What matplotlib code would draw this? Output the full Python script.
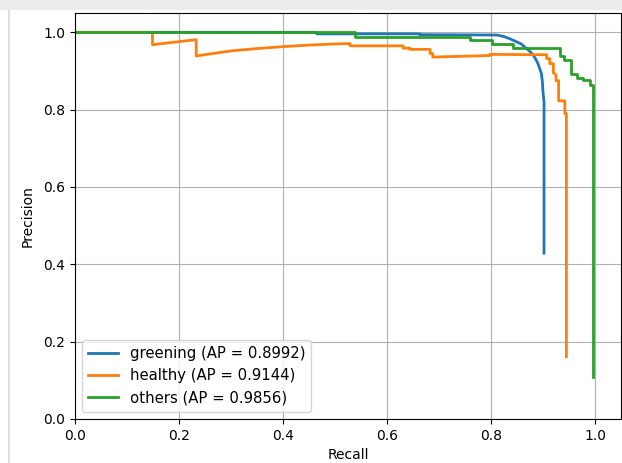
import matplotlib
matplotlib.use("Agg")
import matplotlib.pyplot as plt
from matplotlib.patches import Rectangle
from matplotlib.lines import Line2D

# PR curve vertices (recall, precision)
greening_recall = [0.0, 0.465, 0.465, 0.663, 0.663, 0.812, 0.825, 0.835, 0.842, 0.850,
                   0.858, 0.865, 0.873, 0.879, 0.885, 0.890, 0.894, 0.897, 0.899, 0.900,
                   0.902, 0.902]
greening_prec = [1.0, 1.0, 0.996, 0.996, 0.994, 0.993, 0.989, 0.984, 0.980, 0.975,
                 0.970, 0.962, 0.953, 0.945, 0.933, 0.920, 0.905, 0.893, 0.870, 0.845,
                 0.820, 0.429]

healthy_recall = [0.0, 0.149, 0.149, 0.233, 0.233, 0.30, 0.35, 0.40, 0.45, 0.50, 0.529,
                  0.529, 0.631, 0.631, 0.644, 0.644, 0.683, 0.683, 0.688, 0.688, 0.798,
                  0.798, 0.907, 0.907, 0.913, 0.913, 0.920, 0.920, 0.925, 0.925, 0.930,
                  0.930, 0.942, 0.942, 0.945, 0.945]
healthy_prec = [1.0, 1.0, 0.968, 0.981, 0.939, 0.952, 0.958, 0.963, 0.967, 0.970, 0.971,
                0.965, 0.965, 0.959, 0.959, 0.956, 0.956, 0.945, 0.945, 0.936, 0.940,
                0.943, 0.942, 0.932, 0.932, 0.919, 0.919, 0.895, 0.890, 0.875, 0.875,
                0.823, 0.823, 0.790, 0.790, 0.161]

others_recall = [0.0, 0.538, 0.538, 0.760, 0.760, 0.802, 0.802, 0.842, 0.842, 0.933,
                 0.933, 0.940, 0.940, 0.954, 0.954, 0.965, 0.965, 0.977, 0.977, 0.990,
                 0.990, 0.997, 0.997]
others_prec = [1.0, 1.0, 0.987, 0.987, 0.979, 0.979, 0.970, 0.970, 0.960, 0.960,
               0.940, 0.940, 0.928, 0.928, 0.892, 0.892, 0.883, 0.883, 0.876, 0.876,
               0.863, 0.863, 0.108]

labels = ["greening (AP = 0.8992)", "healthy (AP = 0.9144)", "others (AP = 0.9856)"]
colors = ["#1f77b4", "#ff7f0e", "#2ca02c"]

fig = plt.figure(figsize=(6.22, 4.63), dpi=100)

# notebook output frame
fig.patches.append(Rectangle((0, 1 - 10 / 463), 1, 10 / 463, transform=fig.transFigure,
                             facecolor="#ececec", edgecolor="none", zorder=-1))
fig.lines.append(Line2D([9 / 622, 9 / 622], [0, 1 - 10 / 463], transform=fig.transFigure,
                        color="#d8d8d8", lw=1.2))

ax = fig.add_axes([75 / 622, 44 / 463, 546 / 622, 406 / 463])

ax.plot(greening_recall, greening_prec, color=colors[0], lw=2, label=labels[0])
ax.plot(healthy_recall, healthy_prec, color=colors[1], lw=2, label=labels[1])
ax.plot(others_recall, others_prec, color=colors[2], lw=2, label=labels[2])

ax.set_xlim(0, 1.05)
ax.set_ylim(0, 1.05)
ax.set_xlabel("Recall")
ax.set_ylabel("Precision", labelpad=6)
ax.grid(True)
ax.legend(loc="lower left", fontsize=10.7)

fig.savefig("out.png", dpi=100)
